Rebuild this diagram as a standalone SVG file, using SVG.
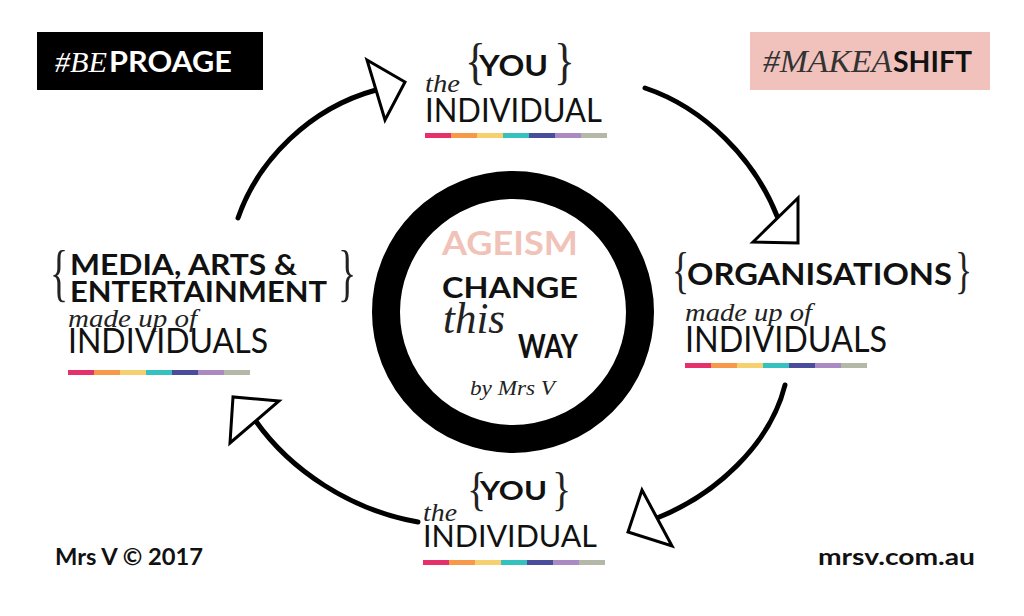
<svg xmlns="http://www.w3.org/2000/svg" xmlns:xlink="http://www.w3.org/1999/xlink" width="1024" height="616" viewBox="0 0 1024 616">
<style>
.b{font-family:Lato,"Liberation Sans",sans-serif;font-weight:700;fill:#111}
.r{font-family:Lato,"Liberation Sans",sans-serif;font-weight:400;fill:#111}
.i{font-family:"Liberation Serif","DejaVu Serif",serif;font-style:italic;fill:#222}
.br{font-family:"Liberation Serif","DejaVu Serif",serif;fill:#222}
.arc{fill:none;stroke:#000;stroke-width:5;stroke-linecap:round}
.head{fill:#fff;stroke:#000;stroke-width:3;stroke-linejoin:miter}
</style>
<defs>
<g id="bar">
<rect x="0" y="0" width="26" height="5" fill="#e6306a"/>
<rect x="26" y="0" width="26" height="5" fill="#f7984a"/>
<rect x="52" y="0" width="26" height="5" fill="#f6d06e"/>
<rect x="78" y="0" width="26" height="5" fill="#36c1c1"/>
<rect x="104" y="0" width="26" height="5" fill="#4a4c9c"/>
<rect x="130" y="0" width="26" height="5" fill="#a98ac2"/>
<rect x="156" y="0" width="26" height="5" fill="#b4b8a6"/>
</g>
</defs>
<rect width="1024" height="616" fill="#fff"/>

<g id="tag-beproage">
<rect x="37" y="32" width="226" height="58" fill="#000"/>
<text class="i" x="55" y="72" font-size="30" textLength="52" lengthAdjust="spacingAndGlyphs" style="fill:#fff">#BE</text>
<text class="b" x="109" y="72" font-size="28" textLength="123" lengthAdjust="spacingAndGlyphs" style="fill:#fff">PROAGE</text>
</g>

<g id="tag-makeashift">
<rect x="750" y="32" width="240" height="58" fill="#f0c2bb"/>
<text class="i" x="763" y="72" font-size="32" textLength="129" lengthAdjust="spacingAndGlyphs" style="fill:#333">#MAKEA</text>
<text class="b" x="893" y="72" font-size="28" textLength="79" lengthAdjust="spacingAndGlyphs">SHIFT</text>
</g>

<g id="connectors">
<path class="arc" d="M238,218 C258,160 310,108 376,90"/>
<polygon class="head" points="367,60 405,82 385,120"/>
<path class="arc" d="M645,88 C705,108 755,160 777,216"/>
<polygon class="head" points="798,198 798,243 753,242"/>
<path class="arc" d="M785,385 C770,445 715,495 657,518"/>
<polygon class="head" points="642,490 628,532 672,546"/>
<path class="arc" d="M418,522 C350,510 290,470 255,420"/>
<polygon class="head" points="279,401 233,397 230,443"/>
</g>

<g id="center">
<circle cx="513" cy="312" r="127" fill="#fff" stroke="#000" stroke-width="28"/>
<text class="b" x="442" y="255" font-size="32" textLength="136" lengthAdjust="spacingAndGlyphs" style="fill:#f0c2b8">AGEISM</text>
<text class="b" x="442" y="298" font-size="29" textLength="136" lengthAdjust="spacingAndGlyphs">CHANGE</text>
<text class="i" x="443" y="333" font-size="44" textLength="62" lengthAdjust="spacingAndGlyphs">this</text>
<text class="b" x="518" y="358" font-size="32" textLength="60" lengthAdjust="spacingAndGlyphs">WAY</text>
<text class="i" x="470" y="395" font-size="22" textLength="85" lengthAdjust="spacingAndGlyphs">by Mrs V</text>
</g>

<g id="node-you-top">
<text class="br" x="0" y="0" font-size="51" transform="translate(465,78) scale(0.85,1)">{</text>
<text class="b" x="479" y="76" font-size="28" textLength="69" lengthAdjust="spacingAndGlyphs">YOU</text>
<text class="br" x="0" y="0" font-size="51" transform="translate(554,78) scale(0.85,1)">}</text>
<text class="i" x="425" y="92" font-size="26" textLength="35" lengthAdjust="spacingAndGlyphs">the</text>
<text class="r" x="425" y="122" font-size="33" textLength="177" lengthAdjust="spacingAndGlyphs">INDIVIDUAL</text>
<use xlink:href="#bar" x="425" y="133"/>
</g>

<g id="node-organisations">
<text class="br" x="0" y="0" font-size="51" transform="translate(672,287) scale(0.7,1)">{</text>
<text class="b" x="687" y="285" font-size="30" textLength="265" lengthAdjust="spacingAndGlyphs">ORGANISATIONS</text>
<text class="br" x="0" y="0" font-size="51" transform="translate(955,287) scale(0.7,1)">}</text>
<text class="i" x="685" y="321" font-size="26" textLength="127" lengthAdjust="spacingAndGlyphs">made up of</text>
<text class="r" x="685" y="352" font-size="37" textLength="202" lengthAdjust="spacingAndGlyphs">INDIVIDUALS</text>
<use xlink:href="#bar" x="685" y="363"/>
</g>

<g id="node-media">
<text class="br" x="0" y="0" font-size="63" transform="translate(50,294) scale(0.6,1)">{</text>
<text class="b" x="70" y="275" font-size="28" textLength="227" lengthAdjust="spacingAndGlyphs">MEDIA, ARTS &amp;</text>
<text class="b" x="70" y="302" font-size="28" textLength="257" lengthAdjust="spacingAndGlyphs">ENTERTAINMENT</text>
<text class="br" x="0" y="0" font-size="63" transform="translate(338,294) scale(0.6,1)">}</text>
<text class="i" x="68" y="327" font-size="26" textLength="129" lengthAdjust="spacingAndGlyphs">made up of</text>
<text class="r" x="68" y="353" font-size="35" textLength="200" lengthAdjust="spacingAndGlyphs">INDIVIDUALS</text>
<use xlink:href="#bar" x="68" y="370"/>
</g>

<g id="node-you-bottom">
<text class="br" x="0" y="0" font-size="47" transform="translate(467,505) scale(0.85,1)">{</text>
<text class="b" x="480" y="500" font-size="26" textLength="67" lengthAdjust="spacingAndGlyphs">YOU</text>
<text class="br" x="0" y="0" font-size="47" transform="translate(552,505) scale(0.85,1)">}</text>
<text class="i" x="423" y="521" font-size="26" textLength="34" lengthAdjust="spacingAndGlyphs">the</text>
<text class="r" x="423" y="547" font-size="31" textLength="174" lengthAdjust="spacingAndGlyphs">INDIVIDUAL</text>
<use xlink:href="#bar" x="423" y="560"/>
</g>

<g id="footer">
<text class="b" x="55" y="565" font-size="23" textLength="148" lengthAdjust="spacingAndGlyphs">Mrs V © 2017</text>
<text class="b" x="818" y="565" font-size="23" textLength="157" lengthAdjust="spacingAndGlyphs">mrsv.com.au</text>
</g>
</svg>
